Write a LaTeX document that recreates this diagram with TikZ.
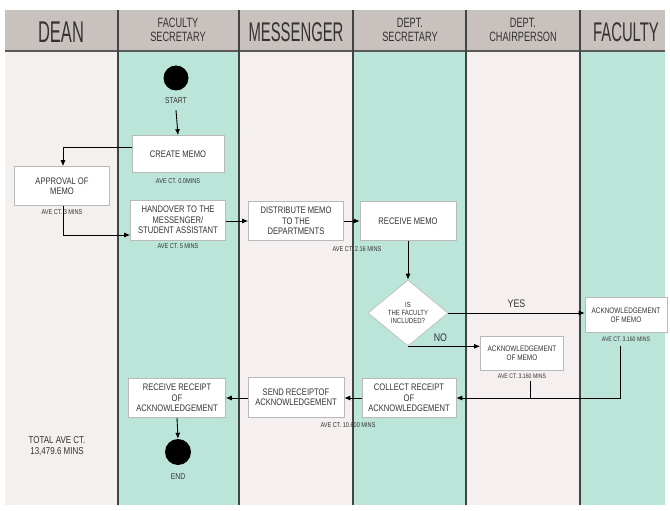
\documentclass[tikz,border=0pt]{standalone}
\usepackage{fontspec}
\setmainfont{Liberation Sans}
\newfontfamily\condH{Liberation Sans}[FakeStretch=0.55]
\newfontfamily\condM{Liberation Sans}[FakeStretch=0.68]
\newfontfamily\cond{Liberation Sans}[FakeStretch=0.8]
\usetikzlibrary{arrows.meta,shapes.geometric}
\definecolor{hdr}{HTML}{C9C1BD}
\definecolor{teal}{HTML}{BCE5D9}
\definecolor{lite}{HTML}{F4F0EE}
\definecolor{pinkl}{HTML}{F6EFEF}
\definecolor{lanel}{HTML}{3F4642}
\definecolor{txt}{HTML}{333333}
\tikzset{
  boxn/.style={draw=gray!55,fill=white,line width=0.6pt,align=center,text=txt,
    font=\cond\fontsize{9.5}{10.5}\selectfont,inner sep=2pt},
  lbl/.style={text=txt,font=\cond\fontsize{7}{7.5}\selectfont,align=center,inner sep=0pt},
  hd/.style={text=txt,align=center,inner sep=0pt},
  arr/.style={-{Latex[length=6pt,width=5pt]},line width=0.9pt,black},
  ln/.style={line width=0.9pt,black},
  term/.style={circle,fill=black,minimum size=25pt,inner sep=0pt},
  lanesep/.style={line width=1.3pt,lanel}
}
\begin{document}
\begin{tikzpicture}[x=1pt,y=-1pt]
\useasboundingbox (0,0) rectangle (670,511);
\fill[white] (0,0) rectangle (670,511);
% lanes
\fill[lite] (5,50) rectangle (118,505);
\fill[teal] (118,50) rectangle (239,505);
\fill[pinkl] (239,50) rectangle (353,505);
\fill[teal] (353,50) rectangle (466,505);
\fill[pinkl] (466,50) rectangle (580,505);
\fill[teal] (580,50) rectangle (665,505);
% header
\fill[hdr] (5,10) rectangle (665,50);
\draw[line width=2pt,gray!70!black] (5,51) -- (665,51);
\foreach \x in {118,239,353,466,580}{\draw[lanesep] (\x,10) -- (\x,505);}
\node[hd,font=\condH\fontsize{30}{30}\selectfont] (hdean) at (61,32) {DEAN};
\node[hd,font=\condM\fontsize{13.5}{14}\selectfont] (hfs) at (178,30) {FACULTY\\SECRETARY};
\node[hd,font=\condH\fontsize{27}{27}\selectfont] (hmes) at (296,32) {MESSENGER};
\node[hd,font=\condM\fontsize{13.5}{14}\selectfont] (hds) at (410,30) {DEPT.\\SECRETARY};
\node[hd,font=\condM\fontsize{13.5}{14}\selectfont] (hdc) at (523,30) {DEPT.\\CHAIRPERSON};
\node[hd,font=\condH\fontsize{27}{27}\selectfont] (hfac) at (626,32) {FACULTY};
% start
\node[term] (start) at (176,78) {};
\node[lbl,font=\cond\fontsize{8.5}{8.5}\selectfont] (startl) at (176,101) {START};
% boxes
\node[boxn,minimum width=92pt,minimum height=37pt] (create) at (178,154) {CREATE MEMO};
\node[lbl] (createl) at (178,181) {AVE CT. 0.0MINS};
\node[boxn,minimum width=95pt,minimum height=39pt] (approval) at (62,186) {APPROVAL OF\\MEMO};
\node[lbl] (approvall) at (62,212) {AVE CT. 3 MINS};
\node[boxn,minimum width=95pt,minimum height=40pt] (handover) at (178,220) {HANDOVER TO THE\\MESSENGER/\\STUDENT ASSISTANT};
\node[lbl] (handoverl) at (178,246) {AVE CT. 5 MINS};
\node[boxn,minimum width=95pt,minimum height=39pt] (distribute) at (296,221) {DISTRIBUTE MEMO\\TO THE\\DEPARTMENTS};
\node[boxn,minimum width=96pt,minimum height=39pt] (receive) at (408,221) {RECEIVE MEMO};
\node[lbl] (receivel) at (357,249) {AVE CT. 2.16 MINS};
\node[diamond,draw=gray!55,fill=white,line width=0.6pt,minimum width=80pt,minimum height=66pt,inner sep=0pt,align=center,text=txt,font=\cond\fontsize{7.5}{8}\selectfont] (dec) at (408,313) {IS\\THE FACULTY\\INCLUDED?};
\node[boxn,minimum width=82pt,minimum height=35pt,font=\cond\fontsize{8}{9}\selectfont] (facack) at (626,315) {ACKNOWLEDGEMENT\\OF MEMO};
\node[lbl,font=\cond\fontsize{6.5}{7}\selectfont] (facackl) at (626,339) {AVE CT. 3.160 MINS};
\node[boxn,minimum width=83pt,minimum height=34pt,font=\cond\fontsize{8}{9}\selectfont] (chack) at (522,353) {ACKNOWLEDGEMENT\\OF MEMO};
\node[lbl,font=\cond\fontsize{6.5}{7}\selectfont] (chackl) at (522,376) {AVE CT. 3.160 MINS};
\node[boxn,minimum width=94pt,minimum height=39pt] (collect) at (409,398) {COLLECT RECEIPT\\OF\\ACKNOWLEDGEMENT};
\node[boxn,minimum width=96pt,minimum height=40pt] (send) at (296,397) {SEND RECEIPTOF\\ACKNOWLEDGEMENT};
\node[lbl] (sendl) at (348,425) {AVE CT. 10.600 MINS};
\node[boxn,minimum width=97pt,minimum height=39pt] (rreceipt) at (177,398) {RECEIVE RECEIPT\\OF\\ACKNOWLEDGEMENT};
\node[term,minimum size=26pt] (endn) at (178,452) {};
\node[lbl,font=\cond\fontsize{8.5}{8.5}\selectfont] (endl) at (178,477) {END};
\node[lbl,font=\cond\fontsize{10}{11}\selectfont] (total) at (57,446) {TOTAL AVE CT.\\13,479.6 MINS};
% coordinates
\coordinate (c1) at (63,147);
\coordinate (c2) at (63,235);
\coordinate (c3) at (530,398);
\coordinate (c4) at (620,398);
% connectors
\draw[arr] (startl.south) ++(0,6) -- (create.north);
\draw[arr] (create.west |- c1) -- (c1) -- (approval.north -| c1);
\draw[arr] (approval.south -| c2) -- (c2) -- (handover.west |- c2);
\draw[arr] (handover.east |- distribute.east) -- (distribute.west);
\draw[arr] (distribute.east) -- (receive.west);
\draw[arr] (receive.south) -- (dec.north);
\draw[arr] (dec.east) -- node[above=5pt,lbl,font=\cond\fontsize{11}{11}\selectfont] (yes) {YES} (facack.west |- dec.east);
\draw[arr] (dec.south) -- node[above=4pt,pos=0.45,lbl,font=\cond\fontsize{11}{11}\selectfont] (no) {NO} (chack.west |- dec.south);
\draw[ln] (chackl.south -| c3) ++(0,2) -- (c3);
\draw[arr] (facackl.south -| c4) ++(0,4) -- (c4) -- (collect.east);
\draw[arr] (collect.west) -- (send.east |- collect.west);
\draw[arr] (send.west |- collect.west) -- (rreceipt.east);
\draw[arr] (rreceipt.south) -- (endn.north);
\end{tikzpicture}
\end{document}
